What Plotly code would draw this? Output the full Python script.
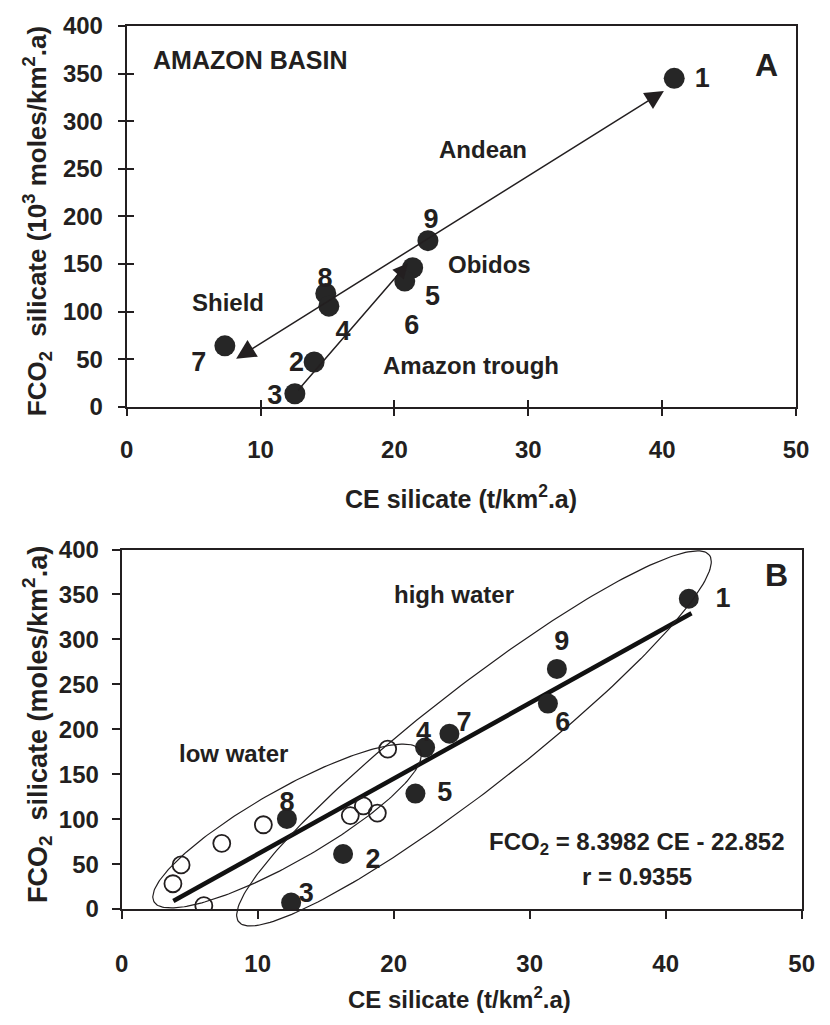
import numpy as np
import plotly.graph_objects as go

# ---------------- data ----------------
# Panel A : Amazon basin
a_ce = [40.9, 22.5, 21.36, 20.77, 14.87, 15.1, 7.33, 14.0, 12.56]
a_fco2 = [345, 174.5, 146, 132, 119, 105.7, 64, 47, 13.7]
a_labels = ["1", "9", "8", "5", "6", "4", "2", "3", "7"]
a_label_x = [42.99, 22.73, 14.82, 22.84, 21.3, 16.15, 12.68, 11.05, 5.39]
a_label_y = [342.6, 194.4, 133.3, 114.2, 83.5, 76.8, 45.1, 10.3, 44.4]

# Panel B : high water (filled) and low water (open)
b_high_ce = [41.7, 32.0, 31.34, 24.1, 22.31, 21.6, 12.15, 16.28, 12.46]
b_high_fco2 = [345.2, 267.2, 228.6, 195.0, 179.8, 128.5, 100.3, 61.3, 7.2]
b_low_ce = [3.77, 4.37, 6.04, 7.36, 10.42, 16.81, 17.77, 18.8, 19.56]
b_low_fco2 = [28.2, 49.1, 3.9, 73.2, 93.8, 104.0, 114.8, 106.8, 178.0]
b_labels = ["1", "9", "6", "7", "4", "5", "8", "2", "3"]
b_label_x = [44.21, 32.36, 32.43, 25.18, 22.2, 23.75, 12.15, 18.49, 13.58]
b_label_y = [344.1, 295.3, 205.1, 205.1, 194.3, 127.4, 116.6, 53.4, 15.5]

fit_slope = 8.3982
fit_intercept = -22.852
fit_ce = [3.8, 41.9]

x_ticks = [0, 10, 20, 30, 40, 50]
y_ticks = [0, 50, 100, 150, 200, 250, 300, 350, 400]

# ---------------- layout geometry ----------------
W, H = 830, 1025
FONT = "Liberation Sans, Arial, Helvetica, sans-serif"
INK = "#231f20"
DOT = "#262626"

A_dom_x = [122.7 / W, 808.5 / W]
A_dom_y = [1 - 403.4 / H, 1 - 12.3 / H]
B_dom_x = [117.5 / W, 814.3 / W]
B_dom_y = [1 - 919.3 / H, 1 - 550.0 / H]

# px per unit in panel B
sx_B = (B_dom_x[1] - B_dom_x[0]) * W / 50.0
sy_B = (B_dom_y[1] - B_dom_y[0]) * H / 400.0

# extended (hidden) axes for the ellipses so they can extend below the x axis
ext_lo_px, ext_hi_px = 30, 12
E_dom_y = [B_dom_y[0] - ext_lo_px / H, B_dom_y[1] + ext_hi_px / H]
E_range_y = [0 - ext_lo_px / sy_B, 400 + ext_hi_px / sy_B]


def ellipse(cx, cy, a_px, b_px, ang_deg, n=240):
    t = np.linspace(0, 2 * np.pi, n)
    th = np.radians(ang_deg)
    dx = a_px * np.cos(t) * np.cos(th) - b_px * np.sin(t) * np.sin(th)
    dy = a_px * np.cos(t) * np.sin(th) + b_px * np.sin(t) * np.cos(th)
    return cx + dx / sx_B, cy + dy / sy_B


fig = go.Figure()

# ---------------- Panel A ----------------
fig.add_trace(go.Scatter(x=a_ce, y=a_fco2, mode="markers", xaxis="x", yaxis="y",
                         marker=dict(size=21, color=DOT), hoverinfo="skip"))
fig.add_trace(go.Scatter(x=a_label_x, y=a_label_y, mode="text", text=a_labels,
                         xaxis="x", yaxis="y", cliponaxis=False,
                         textfont=dict(family=FONT, size=27, color=INK, weight="bold"),
                         hoverinfo="skip"))
# helper invisible traces for the inside half of crossing ticks
fig.add_trace(go.Scatter(x=[0], y=[0], mode="markers", xaxis="x3", yaxis="y",
                         marker=dict(opacity=0), hoverinfo="skip"))
fig.add_trace(go.Scatter(x=[0], y=[0], mode="markers", xaxis="x", yaxis="y3",
                         marker=dict(opacity=0), hoverinfo="skip"))

# ---------------- Panel B ----------------
fit_y = [fit_slope * c + fit_intercept for c in fit_ce]
fig.add_trace(go.Scatter(x=fit_ce, y=fit_y, mode="lines", xaxis="x2", yaxis="y2",
                         line=dict(color="#111111", width=4.5), hoverinfo="skip"))
fig.add_trace(go.Scatter(x=b_low_ce, y=b_low_fco2, mode="markers", xaxis="x2", yaxis="y2",
                         marker=dict(size=17, symbol="circle-open", color=INK,
                                     line=dict(width=1.8, color=INK)),
                         hoverinfo="skip"))
fig.add_trace(go.Scatter(x=b_high_ce, y=b_high_fco2, mode="markers", xaxis="x2", yaxis="y2",
                         marker=dict(size=20, color=DOT), hoverinfo="skip"))
fig.add_trace(go.Scatter(x=b_label_x, y=b_label_y, mode="text", text=b_labels,
                         xaxis="x2", yaxis="y2", cliponaxis=False,
                         textfont=dict(family=FONT, size=27, color=INK, weight="bold"),
                         hoverinfo="skip"))

# ellipses (low water / high water)
low_cx, low_cy = (287 - 117.5) / sx_B, (919.3 - 834) / sy_B
high_cx, high_cy = (478.5 - 117.5) / sx_B, (919.3 - 744) / sy_B
ex, ey = ellipse(low_cx, low_cy, 157, 37, 29.7)
fig.add_trace(go.Scatter(x=ex, y=ey, mode="lines", xaxis="x4", yaxis="y4",
                         line=dict(color=INK, width=1.2), hoverinfo="skip"))
ex, ey = ellipse(high_cx, high_cy, 306, 51.2, 38.0)
fig.add_trace(go.Scatter(x=ex, y=ey, mode="lines", xaxis="x4", yaxis="y4",
                         line=dict(color=INK, width=1.2), hoverinfo="skip"))

# ---------------- axes ----------------
tickfont = dict(family=FONT, size=24, color=INK, weight="bold")
common = dict(showgrid=False, zeroline=False, showline=True, linecolor=INK,
              linewidth=2, mirror=True, tickcolor=INK, tickwidth=1.5,
              tickfont=tickfont)

layout = dict(
    width=W, height=H,
    margin=dict(l=0, r=0, t=0, b=0, pad=0),
    paper_bgcolor="white", plot_bgcolor="rgba(0,0,0,0)",
    showlegend=False,
    xaxis=dict(domain=A_dom_x, anchor="y", range=[0, 50], tickvals=x_ticks,
               ticks="outside", ticklen=7, ticklabelstandoff=13, **common),
    yaxis=dict(domain=A_dom_y, anchor="x", range=[0, 400], tickvals=y_ticks,
               ticks="outside", ticklen=7, ticklabelstandoff=10, **common),
    xaxis3=dict(overlaying="x", anchor="y", range=[0, 50], tickvals=x_ticks,
                ticks="inside", ticklen=7, tickcolor=INK, tickwidth=1.5,
                showticklabels=False, showgrid=False, zeroline=False, showline=False),
    yaxis3=dict(overlaying="y", anchor="x", range=[0, 400], tickvals=y_ticks,
                ticks="inside", ticklen=7, tickcolor=INK, tickwidth=1.5,
                showticklabels=False, showgrid=False, zeroline=False, showline=False),
    xaxis2=dict(domain=B_dom_x, anchor="y2", range=[0, 50], tickvals=x_ticks,
                ticks="outside", ticklen=8, ticklabelstandoff=24, **common),
    yaxis2=dict(domain=B_dom_y, anchor="x2", range=[0, 400], tickvals=y_ticks,
                ticks="outside", ticklen=8, ticklabelstandoff=8, **common),
    xaxis4=dict(domain=B_dom_x, anchor="y4", range=[0, 50], visible=False),
    yaxis4=dict(domain=E_dom_y, anchor="x4", range=E_range_y, visible=False),
)
fig.update_layout(**layout)

# ---------------- annotations ----------------
def txt(x, y, s, size=23, xref="x", yref="y", angle=0):
    fig.add_annotation(x=x, y=y, xref=xref, yref=yref, text=s, showarrow=False,
                       textangle=angle, xanchor="center", yanchor="middle",
                       font=dict(family=FONT, size=size, color=INK, weight="bold"))

# Panel A texts
txt(9.2, 364.7, "AMAZON BASIN", 25)
txt(47.78, 359.3, "A", 32)
txt(26.63, 270.0, "Andean", 24)
txt(27.11, 149.4, "Obidos", 24)
txt(7.55, 109.1, "Shield", 24)
txt(25.75, 43.7, "Amazon trough", 24)

# Panel A arrows
fig.add_annotation(x=40.13, y=331.7, ax=8.06, ay=49.5, xref="x", yref="y",
                   axref="x", ayref="y", text="", showarrow=True,
                   arrowhead=2, startarrowhead=2, arrowside="end+start",
                   arrowwidth=1.5, arrowsize=2.5, startarrowsize=2.6,
                   arrowcolor=INK, standoff=0, startstandoff=0)
fig.add_annotation(x=21.0, y=150.7, ax=12.7, ay=15.7, xref="x", yref="y",
                   axref="x", ayref="y", text="", showarrow=True,
                   arrowhead=2, arrowwidth=1.5, arrowsize=2.0,
                   arrowcolor=INK, standoff=0)

# Panel B texts
txt(24.47, 349.5, "high water", 24, "x2", "y2")
txt(8.2, 173.3, "low water", 24, "x2", "y2")
txt(48.16, 371.2, "B", 32, "x2", "y2")
txt(37.92, 73.2, "FCO<sub>2</sub> = 8.3982 CE - 22.852", 24, "x2", "y2")
txt(37.92, 36.4, "r = 0.9355", 24, "x2", "y2")

# axis titles
txt(465.6 / W, 1 - 496 / H, "CE silicate (t/km<sup>2</sup>.a)", 25, "paper", "paper")
txt(31 / W, 1 - 212.5 / H, "FCO<sub>2</sub>  silicate (10<sup>3</sup> moles/km<sup>2</sup>.a)",
    26, "paper", "paper", -90)
txt(464 / W, 1 - 1011 / H, "CE silicate (t/km<sup>2</sup>.a)", 24, "paper", "paper")
txt(31 / W, 1 - 730 / H, "FCO<sub>2</sub>  silicate (moles/km<sup>2</sup>.a)",
    27, "paper", "paper", -90)

fig.write_html("out.html")
